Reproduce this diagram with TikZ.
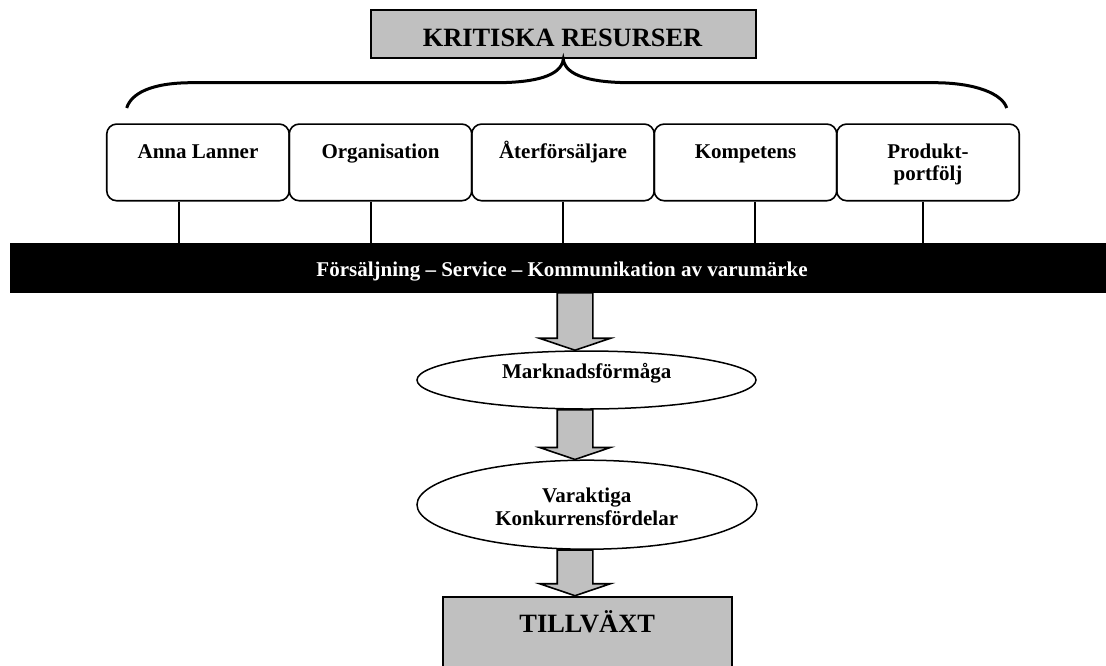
\documentclass[tikz,border=0pt]{standalone}
\usepackage{fontspec}
\setmainfont{Liberation Serif}
\usetikzlibrary{calc,shapes.geometric}
\definecolor{boxgray}{HTML}{C0C0C0}

% block arrow between two nodes, on the vertical axis (ax)
\newcommand\blockarrow[2]{%
  \draw[blockarrowstyle]
    ($(ax |- #1)+(-17.8,0)$) -- ($(ax |- #2)+(-17.8,-12)$)
    -- ($(ax |- #2)+(-35.5,-12)$) -- (ax |- #2)
    -- ($(ax |- #2)+(35.5,-12)$) -- ($(ax |- #2)+(17.8,-12)$)
    -- ($(ax |- #1)+(17.8,0)$) -- cycle;}

\begin{document}
\begin{tikzpicture}[x=1pt,y=-1pt,
  every node/.style={font=\bfseries},
  labeltext/.style={font=\fontsize{21}{23}\selectfont\bfseries, inner sep=0pt, align=center},
  bigtext/.style={font=\fontsize{26.4}{28}\selectfont\bfseries, inner sep=0pt},
  graybox/.style={draw, fill=boxgray, line width=2pt, inner sep=0pt},
  resbox/.style={draw, rounded corners=10pt, line width=1.6pt, minimum width=182.5pt,
                 minimum height=76.7pt, inner sep=0pt},
  oval/.style={draw, ellipse, line width=1.5pt, fill=white, inner sep=0pt},
  brace/.style={line width=3pt},
  link/.style={line width=1.4pt},
  blockarrowstyle/.style={draw, fill=boxgray, line width=1.6pt, line join=miter},
]
\useasboundingbox (0,0) rectangle (1106,665);

% heading
\node[graybox, minimum width=385.3pt, minimum height=48.3pt] (title) at (563.3,34.2) {};
\node[bigtext, anchor=base] (titletext) at (562.5,46.7) {KRITISKA RESURSER};

% resource boxes
\node[resbox] (b1) at (198,162.4) {};
\node[resbox] (b2) at (380.5,162.4) {};
\node[resbox] (b3) at (563,162.4) {};
\node[resbox] (b4) at (745.5,162.4) {};
\node[resbox] (b5) at (928,162.4) {};
\node[labeltext, anchor=base] (t1) at (198,158.3) {Anna Lanner};
\node[labeltext, anchor=base] (t2) at (380.5,158.3) {Organisation};
\node[labeltext, anchor=base] (t3) at (563,158.3) {Återförsäljare};
\node[labeltext, anchor=base] (t4) at (745.5,158.3) {Kompetens};
\node[labeltext, font=\fontsize{21}{21.5}\selectfont\bfseries] (t5) at (928,164.2)
  {Produkt-\\portfölj};

% brace from the heading to the resources
\coordinate (bl) at (126.7,108);
\coordinate (br) at (1006.7,108);
\draw[brace] (bl) .. controls (131,94) and (150,82.7) .. (192,82.7)
  -- (495,82.7) .. controls (535,82.7) and (561,76) .. (title.south)
  .. controls (565.6,76) and (591.6,82.7) .. (631.6,82.7)
  -- (934,82.7) .. controls (976,82.7) and (1002.4,94) .. (br);

% activity bar
\node[fill=black, minimum width=1106pt, minimum height=49.4pt, inner sep=0pt]
  (bar) at (563,268) {};
\node[labeltext, white, anchor=base] (bartext) at (562,276.7)
  {Försäljning – Service – Kommunikation av varumärke};

% links from the resources down to the bar
\coordinate (v1) at (179,0);
\coordinate (v2) at (371,0);
\coordinate (v3) at (563,0);
\coordinate (v4) at (755,0);
\coordinate (v5) at (923,0);
\draw[link] (v1 |- b1.south) -- (v1 |- bar.north);
\draw[link] (v2 |- b2.south) -- (v2 |- bar.north);
\draw[link] (v3 |- b3.south) -- (v3 |- bar.north);
\draw[link] (v4 |- b4.south) -- (v4 |- bar.north);
\draw[link] (v5 |- b5.south) -- (v5 |- bar.north);

% outcome chain
\node[oval, minimum width=339pt, minimum height=58pt] (m1) at (586.5,380) {};
\node[labeltext, anchor=base] (m1text) at (586.7,378.3) {Marknadsförmåga};
\node[oval, minimum width=340pt, minimum height=89pt] (m2) at (587,504.7) {};
\node[labeltext] (m2text) at (586.7,507) {Varaktiga\\[0pt]Konkurrensfördelar};
\node[graybox, minimum width=289pt, minimum height=120pt] (growth) at (587.2,656.7) {};
\node[bigtext, anchor=base] (growthtext) at (587.2,632.7) {TILLVÄXT};

\coordinate (ax) at (575,0);
\blockarrow{bar.south}{m1.north}
\blockarrow{m1.south}{m2.north}
\blockarrow{m2.south}{growth.north}
\end{tikzpicture}
\end{document}
